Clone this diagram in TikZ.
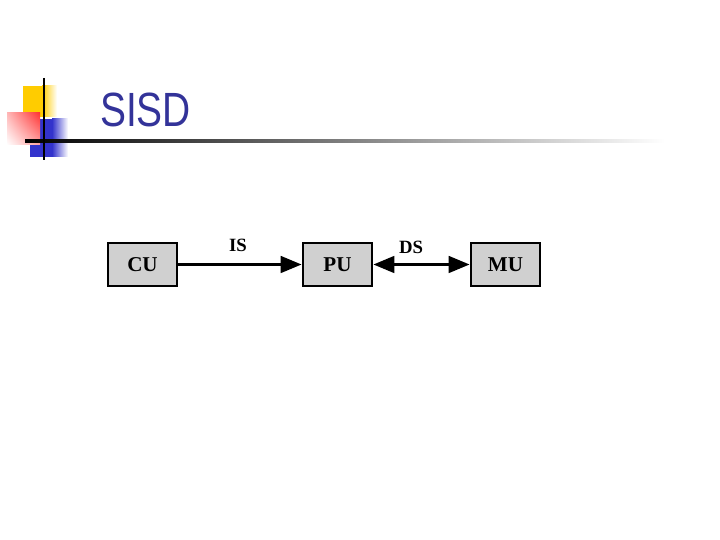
\documentclass[tikz,border=0pt]{standalone}
\usepackage{fontspec}
\setmainfont{Liberation Serif}
\newfontfamily\titlefont{Liberation Sans}
\usepackage{tikz}
\usetikzlibrary{positioning, shapes, arrows.meta, shadings}
\definecolor{tituloAzul}{HTML}{333399}
\definecolor{cajaGris}{HTML}{D0D0D0}
\definecolor{cuadroAmarillo}{HTML}{FFCC00}
\definecolor{cuadroRojo}{HTML}{FF3333}
\definecolor{cuadroAzul}{HTML}{3333CC}

\begin{document}
\begin{tikzpicture}[
  x=0.03cm, y=-0.03cm,
  unidad/.style={draw=black, fill=cajaGris, line width=2.4pt,
                 minimum width=2.07cm, minimum height=1.29cm, inner sep=2pt,
                 font=\fontsize{18}{21}\selectfont\bfseries},
  etiqueta/.style={font=\fontsize{16}{19}\selectfont\bfseries},
  flujo/.style={line width=2.4pt, -{Triangle[length=0.63cm, width=0.5cm]}},
  flujodoble/.style={line width=2.4pt, {Triangle[length=0.63cm, width=0.5cm]}-{Triangle[length=0.63cm, width=0.5cm]}}
]
  \useasboundingbox (0,0) rectangle (720,540);

  % decoracion del titulo
  \fill[cuadroAmarillo] (23,86) rectangle (42,117);
  \shade[left color=cuadroAmarillo, right color=white] (42,86) rectangle (57,117);
  \fill[cuadroAzul] (30,119) rectangle (52,157);
  \shade[left color=cuadroAzul, right color=white] (52,119) rectangle (68,157);
  \shade[upper right=cuadroRojo, upper left=cuadroRojo!35, lower right=cuadroRojo!45, lower left=white]
    (7,113) rectangle (40,145);
  \shade[left color=black, right color=white] (25,140) rectangle (665,142.5);
  \draw[line width=1.7pt] (44,78) -- (44,160);
  \node[anchor=base west, inner sep=0pt, text=tituloAzul, xscale=0.81,
        font=\titlefont\fontsize{41}{48}\selectfont] (titulo) at (100,127) {SISD};

  % unidades
  \node[unidad] (cu) at (142.5,264.5) {CU};
  \node[unidad] (pu) at (337.5,264.5) {PU};
  \node[unidad] (mu) at (505.5,264.5) {MU};

  \draw[flujo] (cu.east) -- (pu.west);
  \draw[flujodoble] (pu.east) -- (mu.west);

  \node[etiqueta] (is) at (238,245) {IS};
  \node[etiqueta] (ds) at (411,247) {DS};
\end{tikzpicture}
\end{document}
